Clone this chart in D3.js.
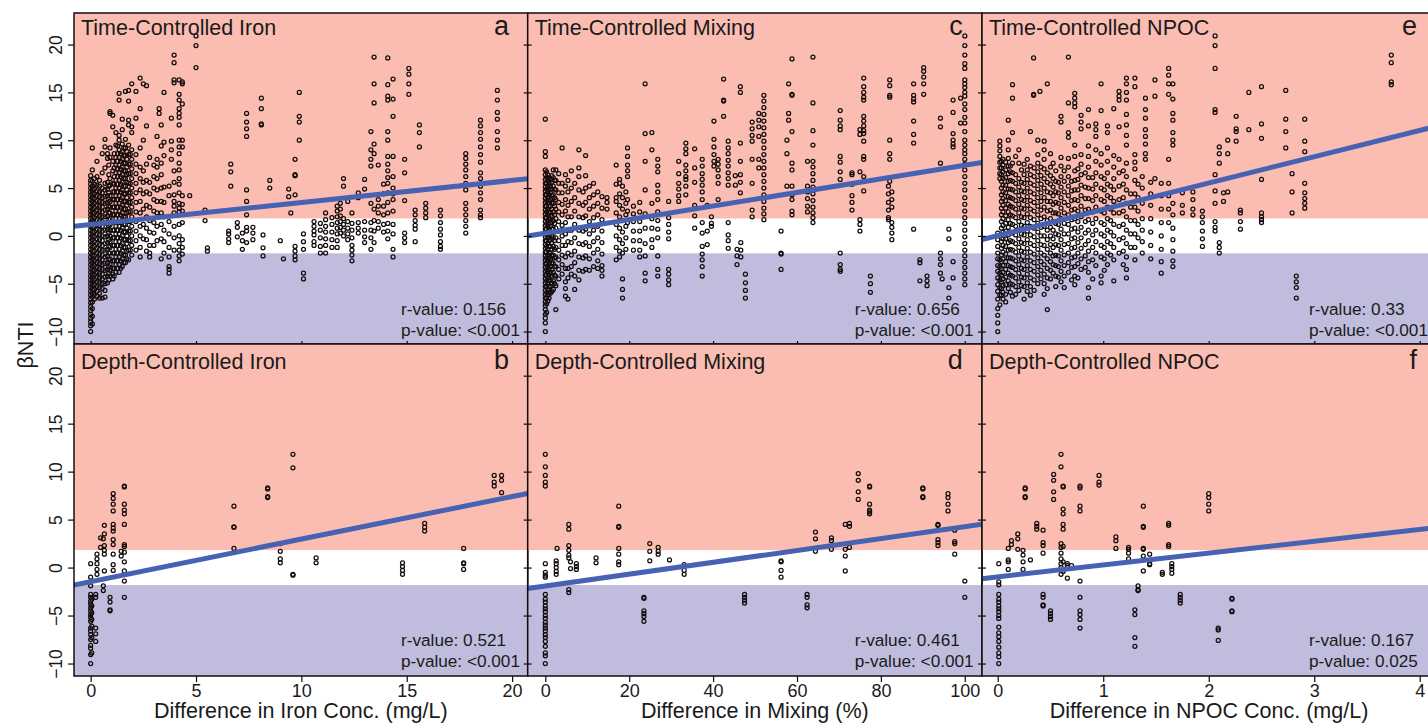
<!DOCTYPE html>
<html>
<head>
<meta charset="utf-8">
<script src="https://cdn.jsdelivr.net/npm/d3@7"></script>
<style>
	body { margin: 0; background: #fff; }
	svg { display: block; }
	text { font-family: 'Liberation Sans', Arial, sans-serif; fill: #1a1a1a; }
</style>
</head>
<body>
<svg id="chart" width="1428" height="723"></svg>
<script>
// points are stored as [x, [y, y, ...]] columns
const ironTime = [
	[0, [-10, -9.4, -9, -8.6, -8.2, -7.8, -7.4, -7, -6.6, -6.2, -5.8, -5.4, -5, -4.6, -4.2, -3.8, -3.4, -3, -2.6, -2.2, -1.8, -1.4, -1, -0.6, -0.2, 0.2, 0.6, 1, 1.4, 1.8, 2.2, 2.6, 3, 3.4, 3.8, 4.2, 4.6, 5, 5.4, 5.8, 6.3]],
	[0.08, [-9.2, -8.4, -7.6, -6.9, -6.4, -6, -5.6, -5.2, -4.8, -4.4, -4, -3.6, -3.2, -2.8, -2.4, -2, -1.6, -1.2, -0.8, -0.4, 0, 0.4, 0.8, 1.2, 1.6, 2, 2.4, 2.8, 3.2, 3.6, 4, 4.4, 4.8, 5.2, 5.7, 6.9, 9.2]],
	[0.18, [-6.6, -6.1, -5.6, -5.1, -4.6, -4.1, -3.6, -3.1, -2.6, -2.1, -1.6, -1.1, -0.6, -0.1, 0.4, 0.9, 1.4, 1.9, 2.4, 2.9, 3.4, 3.9, 4.4, 4.9, 5.4, 6]],
	[0.3, [-6.3, -5.8, -5.3, -4.8, -4.3, -3.8, -3.3, -2.8, -2.3, -1.8, -1.3, -0.8, -0.3, 0.2, 0.7, 1.2, 1.7, 2.2, 2.7, 3.2, 3.7, 4.2, 4.7, 5.3, 6.2, 7.8]],
	[0.42, [-6.5, -6, -5.4, -4.9, -4.4, -3.9, -3.4, -2.9, -2.4, -1.9, -1.4, -0.9, -0.4, 0.1, 0.6, 1.1, 1.6, 2.1, 2.6, 3.1, 3.6, 4.1, 4.6, 5.2, 5.8]],
	[0.55, [-6.5, -5.5, -5, -4.5, -4, -3.5, -3, -2.5, -2, -1.5, -1, -0.5, 0, 0.5, 1, 1.5, 2, 2.5, 3, 3.5, 4, 4.5, 5, 6.6, 8.6]],
	[0.68, [-6.4, -5.7, -5, -4.3, -3.6, -2.9, -2.2, -1.5, -0.8, -0.1, 0.6, 1.3, 2, 2.7, 3.4, 4.1, 4.8, 5.5, 7.1, 9.3, 10.1]],
	[0.8, [-4.9, -4.2, -3.5, -2.8, -2.1, -1.4, -0.7, 0, 0.7, 1.4, 2.1, 2.8, 3.5, 4.2, 4.9, 5.6, 8.1, 8.6]],
	[0.86, [-4.6, -3.9, -3.2, -2.5, -1.8, -1.1, -0.4, 0.3, 1, 1.7, 2.4, 3.1, 3.8, 4.5, 5.2, 6.4, 7.4]],
	[0.92, [-4.2, -3.6, -3, -2.4, -1.8, -1.2, -0.6, 0, 0.6, 1.2, 1.8, 2.4, 3, 3.6, 4.2, 5.3, 6, 8.2, 9.2, 12.8, 13]],
	[1.05, [-4.5, -4, -3.4, -2.6, -1.8, -1, -0.2, 0.6, 1.4, 2.2, 3, 3.8, 4.6, 5.5, 6.8, 7.8, 11.4, 12.6]],
	[1.12, [-4.2, -3.4, -2.6, -1.8, -1, -0.2, 0.6, 1.4, 2.2, 3, 3.8, 4.6, 5.4, 6.2, 7.1, 8.6]],
	[1.2, [-3.8, -3, -2.2, -1.4, -0.6, 0.2, 1, 1.8, 2.6, 3.4, 4.2, 5, 5.8, 6.6, 7.4, 8.2, 9.5, 10.8]],
	[1.28, [-3.4, -2.6, -1.8, -1, -0.2, 0.6, 1.4, 2.2, 3, 3.8, 4.6, 5.4, 6.2, 7, 7.8, 8.6, 9.4]],
	[1.35, [-3.8, -3, -2.2, -1.4, -0.6, 0.2, 1, 1.8, 2.6, 3.4, 4.2, 5, 5.8, 6.6, 7.4, 8.2, 9, 10, 10.5, 14.2, 14.9]],
	[1.42, [-3.4, -2.6, -1.8, -1, -0.2, 0.6, 1.4, 2.2, 3, 3.8, 4.6, 5.4, 6.2, 7, 7.8, 8.6]],
	[1.5, [-3.2, -2.4, -1.6, -0.8, 0, 0.8, 1.6, 2.4, 3.2, 4, 4.8, 5.6, 6.4, 7.2, 8, 8.8, 9.6, 11.1, 12.2]],
	[1.58, [-2.8, -2, -1.2, -0.4, 0.4, 1.2, 2, 2.8, 3.6, 4.4, 5.2, 6, 6.8, 7.6, 8.4, 9.2]],
	[1.65, [-2.8, -2, -1.2, -0.4, 0.4, 1.2, 2, 2.8, 3.6, 4.4, 5.2, 6, 6.8, 7.6, 8.4, 9.2, 10.1, 15.1]],
	[1.72, [-2.4, -1.6, -0.8, 0, 0.8, 1.6, 2.4, 3.2, 4, 4.8, 5.6, 6.4, 7.2, 8, 8.8]],
	[1.8, [-2.5, -1.5, -0.5, 0.5, 1.5, 2.5, 3.5, 4.5, 5.5, 6.5, 7.5, 8.5, 9.5, 11.6, 12.1, 14.1, 15.2]],
	[1.88, [-1.5, -0.5, 0.5, 1.5, 2.5, 3.5, 4.5, 5.5, 6.5, 7.5, 8.5]],
	[1.95, [-2, -1, 0, 1, 2, 3, 4, 5, 6, 7, 8, 9, 10.8, 11.4, 15.9]],
	[2.15, [-1.5, -0.5, 0.5, 1.5, 2.5, 3.5, 4.5, 5.5, 6.5, 7.5, 8.5, 12.3, 15.1]],
	[2.35, [-2.2, -1.2, 0, 1, 2.4, 3.6, 4.8, 6, 7.2, 9.2, 13.3, 16.5]],
	[2.5, [-0.3, 1.2, 2.8, 4.4, 5.6, 6.8, 10, 15.9]],
	[2.65, [-1.6, -0.4, 0.8, 2, 3.2, 4.6, 5.8, 7.5, 11.5, 15.7]],
	[2.8, [-2.2, -1.8, -1, 0.4, 1.6, 3, 4.4, 5.6, 8.2]],
	[3.0, [-1, 0.3, 1.4, 2.6, 3.8, 5, 6.2, 7.4]],
	[3.15, [-0.5, 1, 2.4, 3.6, 4.8, 6, 7.2, 8, 10.4]],
	[3.25, [13.3, 12.8]],
	[3.35, [-2.4, -0.3, 1.2, 2.4, 3.6, 5, 6.4, 7.6, 9.4, 11.6]],
	[3.48, [15, -1.8, -0.6, 0.6, 2, 3.5, 5.1, 8.4, 9.8]],
	[3.72, [-3.9, -3.5, -3.2, -2.2, -1.2, 0.2, 1.5, 4.2, 5.2]],
	[3.83, [12.3, 9.9, 9, 8]],
	[3.96, [18.9, 18.1, 16.3, 16, 6.8, 5.6, 4.3, 3.6, 3.1, 2.4, 1, -0.2, -1.5]],
	[4.2, [16.3, 14.8, 14.2, 13.3, 12.8, 12.4, 11.6, 10, 9.3, 8.6, 7.6, 6.9, 6, 5.4, 4.5, 3.4, 2.9, 2.5, 1.2, 0, -0.8, -1.5, -2.1, -2.6]],
	[4.35, [16.1, 15.9, 13.8, 10, 9.3, 4.2, 3.3, 2.6, 1.4, -0.4, -1.2, -1.9]],
	[4.7, [4.2]],
	[5.0, [20.9, 19.9, 17.6]],
	[5.43, [2.7, 1.6]],
	[5.54, [-1.25, -1.6]],
	[6.55, [-0.7, -0.3, 0.2, 0.5]],
	[6.65, [7.5, 6.7, 5.2]],
	[6.96, [-0.1, 0.9, 1.4]],
	[7.2, [0.3, -0.5, -1.4]],
	[7.4, [12.8, 11.9, 11.2, 10.4, 4.8, 3.6, 2.2, 0.5, -0.7, 0.9]],
	[7.7, [0.3, -0.4, 0.9]],
	[8.1, [14.4, 13.3, 11.7, 11.6]],
	[8.18, [-1.25, -2.1, 0.1]],
	[8.5, [5.8, 5.0]],
	[9.0, [-0.5]],
	[9.15, [-2.4]],
	[9.4, [4.9, 4.1]],
	[9.5, [2.4]],
	[9.7, [8.0, 6.4, 6.3, 4.3, -1.1, -1.6, -2.1, -2.5]],
	[9.9, [15, 12.5, 11.9, 10]],
	[10.1, [0.2, -0.6, -1.4, -3.9, -4.5]],
	[10.6, [1.5, 1, 0.5, 0.1, -0.6, -1]],
	[10.9, [1.3, 0.6, -0.2, -1.1, -1.8]],
	[11.15, [2.4, 1.7, 1, 0.4, -0.3, -1, -1.8]],
	[11.45, [1.9, 1.2, 0.4, -0.4, -1.2]],
	[11.7, [3.1, 2.6, 2, 1.4, 0.8, 0.2, -0.5, -1.2]],
	[11.85, [3.4, 2.8, 2.1, 1.5, 0.9, 0.3]],
	[12.0, [6.0, 5.2, 1.8, 1.2, 0.6, 0]],
	[12.2, [3.6, 1.5, 0.8, 0.2, -0.4]],
	[12.4, [2.4, 1.3, 0.6, -0.2, -1, -1.5, -2, -2.6]],
	[12.7, [4.5, 4.0, 1.4, 0.8, 0.3]],
	[13.0, [5.9, 4.9, 1.5, 0.6, -0.1, -0.7]],
	[13.3, [10.9, 9.0, 8.0, 7.3, 3.4, 1.4, 0.6, -0.2, -1.4]],
	[13.45, [18.7, 15.9, 13.9, 9.6, 8.6, 2.8, 1.6, 0.5, -0.7]],
	[13.65, [7.4, 3.8, 3.1, 2.4, 1.5, 0.8]],
	[13.9, [5.4, 4.4, 3.1, 2.2, 1.2, 0.4]],
	[14.1, [18.6, 15.8, 14.6, 14.2, 10.9, 10, 8.3, 7.5, 6.8, 6.1, 5.5, 4.5, 3.5, 2.4, 1.3, 0.5, -0.3]],
	[14.35, [16.4, 14.3, 12.5, 8.3, 6.2, 5, 4.4, 3.8, 2.6, 1.2, 0.2, -1.4, -2.2]],
	[14.9, [8, 6.6, 3.7, 0.3, -0.2, -0.7]],
	[15.1, [17.5, 16.9, 15.9, 14.8]],
	[15.4, [2.7, 2.2, 1.6, 1.1, 0.7, -0.6]],
	[15.6, [11.6, 10.8, 9.3]],
	[15.9, [3.4, 2.9, 2.4, 1.9]],
	[16.6, [2.7, 2.1, 1.4, 0.7, 0.1, -0.6, -1.1, -1.4]],
	[17.8, [8.6, 8.1, 7.5, 6.9, 6.2, 5.5, 4.8, 3.4, 2.8, 2.2, 1.6, 1, 0.3]],
	[18.5, [12.1, 11.5, 10.8, 10.1, 9.3, 8.5, 7.7, 6.6, 6, 5.2, 4.5, 3.8, 2.7, 2.2, 1.9]],
	[19.3, [15.2, 14.2, 12.9, 12.2, 10.9, 10.0, 9.2]]
]

const ironDepth = [
	[0, [-10, -9.06, -8.4, -8.1, -7.5, -7, -6.6, -6.3, -5.6, -5.2, -4.9, -4.5, -4.2, -3.8, -3.5, -3.1, -2.8, -1.9, -1, 0.4]],
	[0.05, [-8.9, -7.3, -6.1, -5.4, -4.7, -4, -3.3]],
	[0.24, [-7.7, -6.9, -6.3, -3.1, -2.8]],
	[0.3, [1.4, 0.9, 0.4, -0.2, -0.7]],
	[0.47, [2.1, 3.1]],
	[0.6, [3, -1.9, -2.4]],
	[0.65, [4.4, 3.5, 2.3, 1.8, 1.4, -0.35]],
	[0.92, [-3.1, -3.6, -4.4, -4.5]],
	[1.07, [7.7, 7.2, 6.6, 5.9, 4.5, 4.1, 3.8, 2.9, 2.4, 1.4, 0.3, -0.3]],
	[1.45, [1.7, 1.2]],
	[1.6, [8.5, 8.4, 6.6, 6, 5.6, 4.5, 2.4, 2.2, 1.6, 0.6, -0.35, -1.4, -3.1]],
	[6.8, [6.4, 4.25, 4.2, 2.0]],
	[8.4, [8.3, 8.2, 7.4, 7.3]],
	[9.0, [2.5, 1.7, 0.9, 0.5]],
	[9.6, [11.8, 10.4, -0.7, -0.8]],
	[10.7, [1, 0.5]],
	[14.8, [0.5, 0.1, -0.3, -0.7]],
	[15.85, [4.6, 4.2, 3.8]],
	[17.7, [2.0, 0.5, 0.4, -0.2]],
	[19.15, [9.6, 8.9, 8.5]],
	[19.5, [9.6, 9.1, 7.8]]
]

const mixTime = [
	[0, [-10, -9.1, -8.6, -8.2, -7.7, -7.3, -6.9, -6.5, -6.1, -5.7, -5.3, -4.9, -4.5, -4.1, -3.7, -3.3, -2.9, -2.5, -2.1, -1.7, -1.3, -0.9, -0.5, -0.1, 0.3, 0.7, 1.1, 1.5, 1.9, 2.3, 2.7, 3.1, 3.5, 3.9, 4.3, 4.7, 5.1, 5.5, 5.9, 6.4, 6.9, 8.3, 8.8, 12.2]],
	[0.3, [-8, -7.1, -6.5, -5.9, -5.3, -4.7, -4.1, -3.5, -2.9, -2.3, -1.7, -1.1, -0.5, 0.1, 0.7, 1.3, 1.9, 2.5, 3.1, 3.7, 4.3, 4.9, 5.5, 6.1, 6.7]],
	[0.6, [-6.8, -6.2, -5.6, -5, -4.4, -3.8, -3.2, -2.6, -2, -1.4, -0.8, -0.2, 0.4, 1, 1.6, 2.2, 2.8, 3.4, 4, 4.6, 5.2, 5.8, 6.4]],
	[0.9, [-6.5, -5.9, -5.3, -4.7, -4.1, -3.5, -2.9, -2.3, -1.7, -1.1, -0.5, 0.1, 0.7, 1.3, 1.9, 2.5, 3.1, 3.7, 4.3, 4.9, 5.5, 6.1]],
	[1.2, [-6, -5.3, -4.6, -3.9, -3.2, -2.5, -1.8, -1.1, -0.4, 0.3, 1, 1.7, 2.4, 3.1, 3.8, 4.5, 5.2, 5.9]],
	[1.55, [-5.8, -4.9, -4.2, -3.5, -2.8, -2.1, -1.4, -0.7, 0, 0.7, 1.4, 2.1, 2.8, 3.5, 4.2, 4.9, 5.6, 6.3]],
	[1.9, [-5.6, -4.7, -3.8, -2.9, -2, -1.1, -0.2, 0.7, 1.6, 2.5, 3.4, 4.3, 5.2, 6.1, 6.9]],
	[2.2, [-5, -4.1, -3.2, -2.3, -1.4, -0.5, 0.4, 1.3, 2.2, 3.1, 4, 4.9, 5.8]],
	[2.5, [-7.7, -5.2, -4.2, -3.2, -2.2, -1.2, -0.2, 0.8, 1.8, 2.8, 3.8, 4.8, 5.8, 6.9]],
	[3.2, [-4.5, -3.5, -2.5, -1.5, -0.5, 0.5, 1.5, 2.5, 3.5, 4.5, 5.5, 6.5]],
	[4.0, [9.2, 5.5, 4.5, 3.3, 2.2, 1.1, 0, -1, -2, -3, -4]],
	[4.8, [6.4, 5.2, 3.8, 2.6, 1.4, 0.2, -1, -2.2, -3.4, -4.8, -5.5, -6.3]],
	[5.4, [5.8, 4.6, 3.2, 2, 0.6, -0.6, -1.8, -3.4, -4.4, -6.6]],
	[6.2, [6.8, 5, 3.6, 2, 0.6, -0.7, -2, -3.2, -4]],
	[7.0, [5.5, 4, 2.6, 1.2, -0.2, -1.6, -2.8, -4.2, -5.6]],
	[8.0, [9.0, 7.1, 6.2, 4.8, 3.4, 2, 0.6, -0.8, -2.2, -3.6, -4.6]],
	[9.0, [4.6, 3.2, 1.9, 0.5, -0.9, -2.3, -3.7]],
	[9.6, [8.4, 6.3, 5.0, 3.5, 2.1, 0.7, -0.7, -2.1, -3.5]],
	[10.5, [5.2, 4, 2.8, 1.5, 0.2, -1.1, -2.4, -3.6]],
	[11.5, [5.5, 4.3, 3.1, 1.9, 0.6, -0.6, -1.8, -3.2]],
	[12.5, [4.6, 3.4, 2.2, 1, -0.2, -1.4, -2.6, -3.4]],
	[13.5, [4.1, 2.9, 1.7, 0.5, -0.7, -1.9, -3.1, -3.6, -4.2]],
	[14.7, [4, 3.5, 2.8]],
	[16.9, [7.4, 5.4, 4, 3.6, 2.4, 1.2, 0, -1.2, -2.5]],
	[17.7, [5.9, 5.5, 4.4, 3.2, 2, 0.8, -0.4, -1.6, -2.2]],
	[18.4, [5.2, 4, 2.8, 1.6, 0.4, -0.8, -1.8, -4.5, -5.6, -6.5]],
	[19.2, [4.6, 3.4, 2.2, 1, -0.2, -1.4]],
	[19.6, [9.2, 8.3, 7.4, 6.8, 6.2, 3.8, 2.6, 1.4]],
	[21.0, [3.1, 2.3, 1.5, 0.5, -0.5, -1.5]],
	[22.5, [3.5, 2.5, 1.5, 0.5, -0.5, -1.5, -2.2]],
	[23.8, [15.9, 10.7, 7.8, 4.8, 2.3, 0.8, -0.8, -2.1, -3.9, -4.7]],
	[25.4, [10.8, 9, 3.4, 1.8, 0.8, -0.4, -1.2]],
	[26.8, [8, 7.3, 6.7, 5.3, 4.6, 3.8, 2.5, 1.6, 0.7, -0.2, -2.1, -3.5, -4.2]],
	[29.4, [3.6, 1.9, 1.2, 0.4, -0.3, -3.5, -4, -4.6, -5.1]],
	[31.8, [7.8, 6.5, 5.5, 4.9, 4.2, 3.6]],
	[33.5, [9.7, 9.1, 8.6, 7.4, 6.8, 6.2, 5.9, 5.2, 4.3]],
	[35.6, [9.1, 7.1, 5.6, 3.2, 2.1, 0.8]],
	[37.4, [8, 7.3, 6.5, 5.9, 5.3, 4.6, 3.8, 1.4, 0.3, -1.1, -1.9, -2.5, -3.2, -4.2]],
	[38.6, [-0.9, 0.5, 3.2]],
	[39.6, [2, 1.3, 1]],
	[40.2, [12, 10.1, 9.3, 8.5, 7.8, 7.3]],
	[41.2, [8, 7.5, 6.9, 6.2, 5.5, 3.8]],
	[42.5, [16.4, 14.2, 14.1, 12.5]],
	[43.6, [9.9, 9.2, 8.6, 7.9, 7.3, 6.6, 6, 5.3, 1.4, 0.1, -0.5, -1.3]],
	[45.3, [6.3, 5.3]],
	[45.7, [-1.4, -2.1, -3]],
	[46.5, [15.6, 15, 9.7, 7.8, 6.4, 5.6, 4.5]],
	[46.6, [-0.7, -1.5, -2.2]],
	[47.7, [-4, -4.9, -5.7, -6.5]],
	[49.3, [11.9, 11.2, 10.5, 9.9, 8, 5.5, 2.7, 2]],
	[50.9, [12.8, 12.1, 11.4, 10.4, 8, 7.1]],
	[52.1, [14.7, 14.1, 13.4, 12.7, 12, 11.3, 10.6, 9.9, 9.2, 8.5, 7.8, 7.1, 6.4, 5.7, 5, 4.3, 3.6, 2.9, 2.3, 1.7]],
	[56.2, [0.5, -1.8, -1.9, -3.5]],
	[57.6, [10, 8.6, 5.2]],
	[58.0, [15.9, 12.8, 12.1]],
	[58.8, [18.5, 14.8, 14.7, 10.9, 7.6, 6.9, 5.2, 4.3, 3.8, 2.6, 2.2]],
	[62.5, [7.8, 5.2, 4.6, 3.9, 3.1, 2.5]],
	[63.8, [18.7, 13.9, 11, 9.5, 7.8, 7.2, 6.5, 5.8, 5.1, 4.4, 3.7, 3, 2.4, 1.9, 1.4]],
	[70.3, [13.1, 12.1, 11.5, 11.1, 8.3, 7.7, 6.7, 5.9, -1.8, -3, -3.5, -3.7]],
	[73.1, [6.6, 6.4, 5.4, 4.2, 3.5, 2.7]],
	[75.0, [11.1, 10.6, 6.7, 1.7, 1.2, 0.5]],
	[75.9, [16.5, 15.6, 15, 14.5, 14.2, 12.5, 12, 11.5, 11, 10.7, 9.9, 8.3, 8, 6.2, 4.7]],
	[77.5, [-4.2, -5, -5.9]],
	[81.8, [5.2, 4.4, 3.5, 2.7, 1.9, 1.7]],
	[82.1, [16.3, 15.7, 14.7, 14.5, 10, 8.6, 8, 5.7]],
	[82.6, [4.6, 3.8, 3, 1.4, 0.9, 0.3, -0.4]],
	[87.8, [15.9, 14.7, 14.3, 14, 12, 10.6, 9.7, 0.7]],
	[89.3, [-2.5, -2.8, -4.7]],
	[90.2, [17.6, 17.2, 16.6, 15.9, 14.8]],
	[91.0, [-4.2, -4.7, -5.2]],
	[94.2, [12.3, 11.4, 7.6, -1.8, -2.4, -3, -3.9]],
	[94.6, [-4.5]],
	[96.2, [-5.4, -6.5, 0.7, -0.3]],
	[97.2, [14.2, 12.9, 10.7, 10, 9.6, 9.3, -2.7, -4.4]],
	[99.0, [14.4, 11.8]],
	[100, [20.9, 19.9, 18.9, 18, 17.5, 16.3, 15.9, 15.5, 15, 14.6, 13.8, 13.2, 12.4, 11.8, 10.9, 10, 9.5, 9, 8.6, 8, 7.5, 6.9, 6.2, 5.5, 4.8, 4, 3.3, 2.6, 1.9, 1.3, 0.6, -0.1, -0.8, -1.5, -2.1, -2.7, -3.3, -3.9, -4.5, -5.1]]
]

const mixDepth = [
	[0, [11.8, 10.5, 9.6, 8.9, 8.5, 0.4, -0.5, -0.8, -1, -2.8, -3.3, -3.6, -4, -4.3, -4.6, -5, -5.3, -5.7, -6, -6.3, -6.6, -7, -7.3, -7.7, -8.2, -8.9, -9.2, -10]],
	[2.6, [0.7, 0.4, 0, -0.4, -0.7]],
	[2.8, [2.0]],
	[5.6, [4.5, 4, 2.3, 1.8, 1.3, 1, -2.3, -2.6]],
	[6.0, [0.6, -0.1]],
	[7.4, [0.4, 0.1, -0.2]],
	[12.1, [1, 0.5]],
	[17.5, [6.4, 4.3, 4.2, 2, 1.4, 0.6, 0.3]],
	[23.5, [-3.1, -3.2, -4.5, -4.8, -5.1, -5.6]],
	[24.9, [2.5, 1.7, 0.7]],
	[26.9, [2.1, 1.7, 1.4]],
	[29.6, [0.8]],
	[33.1, [0.3, -0.3, -0.7]],
	[47.5, [-2.8, -3.1, -3.4, -3.7]],
	[56.2, [0.7, 0.6, -0.3, -1]],
	[62.4, [-2.8, -3.1, -3.9, -4.2]],
	[64.4, [3.7, 3, 1.7]],
	[68.2, [3.1, 2.8, 1.9]],
	[71.5, [4.5, 1.9, 1.2, -0.35]],
	[72.5, [4.6, 4.3, 2.1]],
	[74.6, [9.8, 9.1, 7.9, 7.1]],
	[77.3, [8.5, 8.4, 6.6, 6, 5.8, 5.6]],
	[90.0, [8.3, 8.2, 7.4, 7.3]],
	[93.6, [4.5, 4.4, 2.9, 2.6, 2.3]],
	[96.0, [7.7, 7.3, 6.6, 5.9]],
	[97.6, [3.9, 2.7, 2.5, 1.4]],
	[100, [-1.4, -3.1]]
]

const npocTime = [
	[0, [-10, -9.1, -8.3, -7.6, -6.6, -5.8, -5.1, -4.4, -3.7, -3.1, -2.4, -1.8, -1.1, -0.4, 0.3]],
	[0.02, [-7.2, -6.2, -5.4, -4.6, -3.9, -3.2, -2.5, 9.9, 9.4, 8.9, 8.3, 7.7, 7.1, 6.5, 6]],
	[0.035, [-6.2, -5.5, -4.8, -4.1, -3.4, -2.7, -2, -1.3, -0.6, 0.1, 0.8, 1.5, 2.2, 2.9, 3.6, 4.3, 5, 5.7, 6.4, 7.1, 7.8]],
	[0.05, [-6.6, -5.9, -5.2, -4.5, -3.8, -3.1, -2.4, -1.7, -1, -0.3, 0.4, 1.1, 1.8, 2.5, 3.2, 3.9, 4.6, 5.3, 6, 6.7, 7.4, 8]],
	[0.075, [-6.9, -6.1, -5.1, -4.3, -3.5, -2.7, -1.9, -1.1, -0.3, 0.5, 1.3, 2.1, 2.9, 3.7, 4.5, 5.3, 6.1, 6.9, 7.7]],
	[0.1, [-5.5, -4.7, -3.9, -3.1, -2.3, -1.5, -0.7, 0.1, 0.9, 1.7, 2.5, 3.3, 4.1, 4.9, 5.7, 6.5, 7.3, 8.1, 9, 10, 12.1]],
	[0.12, [-5.9, -5, -4.1, -3.2, -2.3, -1.4, -0.5, 0.4, 1.3, 2.2, 3.1, 4, 4.9, 5.8, 6.7, 7.3]],
	[0.14, [15.8, 14.4, 10.8, -6.3, -5.1, -4.2, -3.3, -2.4, -1.5, -0.6, 0.3, 1.2, 2.1, 3, 3.9, 4.8, 5.7, 6.6, 7.6]],
	[0.17, [-6.1, -5.3, -4.4, -3.5, -2.6, -1.7, -0.8, 0.1, 1, 1.9, 2.8, 3.7, 4.6, 5.5, 6.4, 8.3]],
	[0.2, [-5.7, -4.8, -3.9, -3, -2.1, -1.2, -0.3, 0.6, 1.5, 2.4, 3.3, 4.2, 5.1, 6, 7.6, 9]],
	[0.225, [-5.2, -4.3, -3.4, -2.5, -1.6, -0.7, 0.2, 1.1, 2, 2.9, 3.8, 4.7, 5.6, 6.9]],
	[0.25, [-6.6, -5.3, -4.4, -3.5, -2.6, -1.7, -0.8, 0.1, 1, 1.9, 2.8, 3.7, 4.6, 5.5, 6.4, 7.5]],
	[0.28, [-5.8, -4.9, -4, -3.1, -2.2, -1.3, -0.4, 0.5, 1.4, 2.3, 3.2, 4.1, 5, 5.9, 6.9, 8]],
	[0.31, [-6.2, -5.3, -4.4, -3.5, -2.6, -1.7, -0.8, 0.1, 1, 1.9, 2.8, 3.7, 4.6, 5.5, 6.4, 7.3, 10.9]],
	[0.34, [18.6, 14.8, 14.7]],
	[0.345, [-5.7, -4.6, -3.7, -2.8, -1.9, -1, -0.1, 0.8, 1.7, 2.6, 3.5, 4.4, 5.3, 6.2, 7.1]],
	[0.38, [-5, -4.1, -3.2, -2.3, -1.4, -0.5, 0.4, 1.3, 2.2, 3.1, 4, 4.9, 5.8, 6.7, 7.6, 8.5, 10]],
	[0.4, [15.1]],
	[0.41, [-4.5, -3.6, -2.7, -1.8, -0.9, 0, 0.9, 1.8, 2.7, 3.6, 4.5, 5.4, 6.3, 7.2]],
	[0.44, [-6.1, -5, -4, -3, -2, -1, 0, 1, 2, 3, 4, 5, 6, 7, 8, 9, 9.9]],
	[0.47, [15.9, -7.7, -5.5, -4.4, -3.4, -2.4, -1.4, -0.4, 0.6, 1.6, 2.6, 3.6, 4.6, 5.6, 6.6]],
	[0.5, [-4.5, -3.6, -2.7, -1.8, -0.9, 0, 0.9, 1.8, 2.7, 3.6, 4.5, 5.4, 6.3, 7.2, 8.6]],
	[0.525, [-3.9, -3, -2.1, -1.2, -0.3, 0.6, 1.5, 2.4, 3.3, 4.2, 5.1, 6, 7.6]],
	[0.55, [-5.3, -4.2, -3.1, -2, -0.9, 0.2, 1.3, 2.4, 3.5, 4.6, 5.7, 6.8]],
	[0.575, [-4.3, -3.2, -2.1, -1, 0.1, 1.2, 2.3, 3.4, 4.5, 5.6]],
	[0.6, [12.5, 11.9, -4.8, -3.7, -2.6, -1.5, -0.4, 0.7, 1.8, 2.9, 4, 5.1, 6.2, 7.3, 8.2]],
	[0.63, [-5.4, -4.2, -3.1, -2, -0.9, 0.2, 1.3, 2.4, 3.5, 4.6, 5.7, 6.8]],
	[0.67, [18.7, 13.9, 10.8, 10.3, -3.8, -2.8, -1.8, -0.8, 0.2, 1.2, 2.2, 3.2, 4.2, 5.2, 6.2, 7.2, 8.1]],
	[0.7, [-4.6, -3.3, -2.3, -1.3, -0.3, 0.7, 1.7, 2.7, 3.7, 4.7, 5.7]],
	[0.73, [14.9, 14.4, 13.9, 13.5, -5.1, -4.2, -3.2, -2.2, -1.2, -0.2, 0.8, 1.8, 2.8, 3.8, 4.8, 5.8, 6.8, 8.3, 9.5]],
	[0.76, [-4.4, -2.9, -1.8, -0.7, 0.4, 1.5, 2.6, 3.7, 4.8, 5.9, 7]],
	[0.79, [12.6, 11.9, 11.2, -3.5, -2.4, -1.3, -0.2, 0.9, 2, 3.1, 4.2, 5.3, 6.4, 7.5, 8.5]],
	[0.83, [-3.3, -2.1, -0.9, 0.3, 1.5, 2.7, 3.9, 5.1, 6.6]],
	[0.86, [13.2, 11.5, -6.5, -5.4, -3.8, -2.7, -1.6, -0.5, 0.6, 1.7, 2.8, 3.9, 5, 6.1, 7.2, 8.3, 9.4]],
	[0.9, [-4.5, -2.5, -1.2, 0.1, 1.3, 2.5, 3.7, 4.9, 6.1]],
	[0.93, [11.7, 11.1, 10.4, -3.1, -1.8, -0.6, 0.6, 1.8, 3, 4.2, 5.4, 6.6, 7.8, 9]],
	[0.98, [15.9, 13.1, -4.2, -4.9, -2.2, -1, 0.2, 1.4, 2.6, 3.8, 5, 6.2, 7.4, 8.6]],
	[1.01, [-3.6, -2.4, -1.2, 0, 1.2, 2.4, 3.6, 4.8, 6]],
	[1.04, [11.5, 10.8, -3, -1.8, -0.6, 0.6, 1.8, 3, 4.2, 5.4, 6.6, 7.8, 9.2]],
	[1.07, [-2, -0.8, 0.4, 1.6, 2.8, 4, 5.2]],
	[1.1, [13.3, -4.7, -2.5, -1.2, 0, 1.2, 2.4, 3.6, 4.8, 6, 7.2, 8.4]],
	[1.15, [15.1, 14.6, 14.2, 11.4, -1.8, -0.4, 1, 2.4, 3.8, 5.2, 6.6, 8]],
	[1.19, [-3, -1.6, -0.2, 1.2, 2.6, 4, 5.4, 6.8]],
	[1.22, [16.5, 15.9, 15, 14.2, 12.7, 11.6, 10.5, 9.5, -4.4, -3.5, -2.2, -0.8, 0.6, 2, 3.4, 4.8, 6.2, 7.6]],
	[1.26, [-1.2, 0.2, 1.6, 3, 4.4]],
	[1.3, [16.5, 15.6, 8.5, 7.7, -2.5, -1.2, 0.2, 1.6, 3, 4.4, 5.8, 7]],
	[1.33, [-0.2, 1.2, 2.6, 4, 5.4]],
	[1.37, [-1.8, -0.6, 0.6, 1.8, 3.4, 5, 6.2]],
	[1.4, [14.4, 13.2, 12.3, 11.1, 10.4, 9.6, 8.6, 8]],
	[1.45, [-2.4, -1, 0.4, 1.8, 3.2, 4.4, 5.6]],
	[1.49, [16.3, 14.6, 6]],
	[1.55, [-3.9, -2.7, -1.4, 0, 1.4, 2.8, 4.2, 5.5]],
	[1.62, [17.5, 16.8, 15.9, 14.8, 8, 5.5, 4.2, 2.8, 1.4]],
	[1.66, [15.9, 14.3, 12.8, 12.1, 10.8, 10, 9.5, 3.4, 2.2, 0.8, -0.4, -1.6, -2.6, -3.2]],
	[1.75, [4.5, 3.2, 2.4]],
	[1.85, [4.6, 3.8, 2.8, 2.2]],
	[1.94, [2.6, 2, 1.4, 0.5, -0.3, -1.1]],
	[2.06, [20.9, 19.9, 17.5, 13.2, 12.9, 6.4, 4.7, 3.4, 1.5, 0.9, 0.5]],
	[2.1, [9.3, 8.6, 7.6, -0.7, -1.2, -1.8]],
	[2.14, [4.5, 3.6]],
	[2.18, [10, 8.6, 4.6]],
	[2.26, [12.5, 11.2, 10.9, 9.9]],
	[2.3, [2.7, 2.4, 1.5, 0.7]],
	[2.38, [15, 11.1]],
	[2.5, [15.6, 11.7, 10.2, 5.9, 2.4, 2, 1.7, 1.4]],
	[2.73, [15.2, 12.2, 10.9, 9.2]],
	[2.79, [6.5, 4.6, 2.4]],
	[2.83, [-4.2, -4.8, -5.4, -6.5]],
	[2.91, [12.2, 9.9, 8.8, 5.5, 4.5, 3.9, 3.4, 2.9]],
	[3.73, [18.9, 18.1, 16.1, 15.8]]
]

const npocDepth = [
	[0.01, [0.4, -1.5, -1.8, -2.8, -3.3, -3.6, -4, -4.3, -4.6, -5, -5.3, -6.2, -6.8, -7.2, -7.7, -8.3, -8.9, -9.3, -10]],
	[0.1, [2, 0.8, 0.6, -0.2]],
	[0.13, [2.8, 2.4]],
	[0.19, [3.5, 3, 1.9]],
	[0.24, [1.8, 1.3, 0.6, -0.2]],
	[0.26, [8.3, 8.2, 7.4, 7.3]],
	[0.31, [0.8]],
	[0.37, [4.6, 4.3, 4]],
	[0.43, [3.9, 2.6, 2.3, 1.5, -2.8, -3.1, -3.9, -4]],
	[0.5, [-4.5, -4.8, -5.1, -5.4]],
	[0.53, [9.7, 9.1, 7.9, 7.1]],
	[0.6, [11.8, 10.5, 2.5, 2.1, 1.5, 0.9, 0.4, 0, -0.7]],
	[0.62, [8.5, 8.4, 6.1, 5.6, 4.5, 4.0, 2.2, 0.6, -0.4]],
	[0.66, [0.4, 0.2, -1.1]],
	[0.7, [0.2]],
	[0.78, [8.5, 8.3, 6.4, 5.9, -1.4, -3.1, -4.5, -4.9, -5.4, -6.3]],
	[0.96, [9.6, 8.9, 8.6]],
	[1.12, [3.2, 2.8, 2]],
	[1.24, [2.1, 1.9, 1.5, 0.9]],
	[1.3, [-4.4, -4.9, -7.3, -8.2]],
	[1.33, [-1.9, -2.3, -2.4]],
	[1.38, [6.4, 4.3, 4.2, 2, 1.9, 1.2, -0.35]],
	[1.44, [1.4, 0.4, 0.3]],
	[1.56, [-0.5, -0.7]],
	[1.62, [4.6, 4.4, 2.4, 2.2]],
	[1.65, [0.4, 0.1, -0.2, -0.6]],
	[1.73, [-2.8, -3.1, -3.4, -3.7]],
	[2.0, [7.7, 7.3, 6.6, 5.9]],
	[2.09, [-6.3, -6.5, -7.6]],
	[2.22, [-3.2, -3.3, -4.5, -4.6]]
]

// regression fits (intercept, slope), order a..f
const fitIntercept = [1.18, -1.46, 0.28, -1.93, 0.03, -0.97]
const fitSlope = [0.231, 0.443, 0.071, 0.0619, 2.75, 1.237]
const rValues = ['0.156', '0.521', '0.656', '0.461', '0.33', '0.167']
const pValues = ['<0.001', '<0.001', '<0.001', '<0.001', '<0.001', '0.025']
const titles = ['Time-Controlled Iron', 'Depth-Controlled Iron', 'Time-Controlled Mixing', 'Depth-Controlled Mixing', 'Time-Controlled NPOC', 'Depth-Controlled NPOC']
const letters = ['a', 'b', 'c', 'd', 'e', 'f']
const xLabels = ['Difference in Iron Conc. (mg/L)', 'Difference in Mixing (%)', 'Difference in NPOC Conc. (mg/L)']
const xTicks = [[0, 5, 10, 15, 20], [0, 20, 40, 60, 80, 100], [0, 1, 2, 3, 4]]
const xDomains = [[-0.79, 20.74], [-4.2, 104.1], [-0.149, 4.154]]
const yTicks = [-10, -5, 0, 5, 10, 15, 20]
const yDomain = [-11.3, 23.3]
const bandLimits = [-1.82, 1.82]

const datasets = [ironTime, ironDepth, mixTime, mixDepth, npocTime, npocDepth]

const colEdges = [74, 527.7, 982, 1436]
const rowEdges = [13, 344, 676]
const red = '#fbbdb2'
const blue = '#c0bcdd'
const lineBlue = '#4762b2'
const ink = '#140c0c'
const fontFamily = "'Liberation Sans', Arial, sans-serif"

const svg = d3.select('#chart')
const defs = svg.append('defs')

datasets.forEach((data, i) => {
	const col = Math.floor(i / 2)
	const row = i % 2
	const x0 = colEdges[col], x1 = colEdges[col + 1]
	const y0 = rowEdges[row], y1 = rowEdges[row + 1]

	const x = d3.scaleLinear().domain(xDomains[col]).range([x0, x1])
	const y = d3.scaleLinear().domain(yDomain).range([y1, y0])

	defs.append('clipPath')
		.attr('id', 'clip' + i)
		.append('rect')
		.attr('x', x0).attr('y', y0)
		.attr('width', x1 - x0).attr('height', y1 - y0)

	const g = svg.append('g').attr('clip-path', `url(#clip${i})`)

	// background bands
	g.append('rect')
		.attr('x', x0).attr('width', x1 - x0)
		.attr('y', y0).attr('height', y(bandLimits[1]) - y0)
		.attr('fill', red)
	g.append('rect')
		.attr('x', x0).attr('width', x1 - x0)
		.attr('y', y(bandLimits[0])).attr('height', y1 - y(bandLimits[0]))
		.attr('fill', blue)

	const pts = data.flatMap(([px, ys]) => ys.map(py => [px, py]))

	g.append('g')
		.selectAll('circle')
		.data(pts)
		.enter()
		.append('circle')
		.attr('cx', d => x(d[0]))
		.attr('cy', d => y(d[1]))
		.attr('r', 2)
		.attr('fill', 'none')
		.attr('stroke', ink)
		.attr('stroke-width', 1.25)

	const xd = xDomains[col]
	g.append('line')
		.attr('x1', x(xd[0]))
		.attr('y1', y(fitIntercept[i] + fitSlope[i] * xd[0]))
		.attr('x2', x(xd[1]))
		.attr('y2', y(fitIntercept[i] + fitSlope[i] * xd[1]))
		.attr('stroke', lineBlue)
		.attr('stroke-width', 5)

	// panel texts
	svg.append('text')
		.attr('x', x0 + 7)
		.attr('y', y0 + (row === 0 ? 22 : 25))
		.attr('font-size', 21.5)
		.text(titles[i])
	svg.append('text')
		.attr('x', x0 + 435)
		.attr('y', y0 + (row === 0 ? 22 : 25))
		.attr('text-anchor', 'end')
		.attr('font-size', 27)
		.text(letters[i])
	svg.append('text')
		.attr('x', x0 + 327)
		.attr('y', y0 + 302)
		.attr('font-size', 17.2)
		.text('r-value: ' + rValues[i])
	svg.append('text')
		.attr('x', x0 + 327)
		.attr('y', y0 + 322.5)
		.attr('font-size', 17.2)
		.text('p-value: ' + pValues[i])

	// y axis
	if (col === 0) {
		const ay = svg.append('g')
			.attr('transform', `translate(${x0},0)`)
			.call(d3.axisLeft(y).tickValues(yTicks).tickSize(6).tickPadding(6))
		ay.select('.domain').remove()
		ay.selectAll('line').attr('stroke', ink).attr('stroke-width', 1.2)
		ay.selectAll('text')
			.attr('font-size', 17.5)
			.attr('font-family', fontFamily)
			.attr('fill', ink)
			.attr('text-anchor', 'middle')
			.attr('dy', 0)
			.attr('x', 0)
			.attr('transform', 'translate(-12,0) rotate(-90)')
	} else {
		const ay = svg.append('g')
			.attr('transform', `translate(${x0},0)`)
			.call(d3.axisRight(y).tickValues(yTicks).tickSize(4).tickFormat(''))
		ay.select('.domain').remove()
		ay.selectAll('line').attr('stroke', ink).attr('stroke-width', 1.2)
		const ay2 = svg.append('g')
			.attr('transform', `translate(${x0},0)`)
			.call(d3.axisLeft(y).tickValues(yTicks).tickSize(4).tickFormat(''))
		ay2.select('.domain').remove()
		ay2.selectAll('line').attr('stroke', ink).attr('stroke-width', 1.2)
	}

	// x axis
	if (row === 1) {
		const ax = svg.append('g')
			.attr('transform', `translate(0,${y1})`)
			.call(d3.axisBottom(x).tickValues(xTicks[col]).tickSize(6).tickPadding(4).tickFormat(d3.format('d')))
		ax.select('.domain').remove()
		ax.selectAll('line').attr('stroke', ink).attr('stroke-width', 1.2)
		ax.selectAll('text')
			.attr('font-size', 18)
			.attr('font-family', fontFamily)
			.attr('fill', ink)
			.attr('dy', 0)
			.attr('y', 21)
		svg.append('text')
			.attr('x', (x0 + x1) / 2)
			.attr('y', 718)
			.attr('text-anchor', 'middle')
			.attr('font-size', 21.5)
			.text(xLabels[col])
	} else {
		const ax = svg.append('g')
			.attr('transform', `translate(0,${y1})`)
			.call(d3.axisBottom(x).tickValues(xTicks[col]).tickSize(3).tickFormat(''))
		ax.select('.domain').remove()
		ax.selectAll('line').attr('stroke', ink).attr('stroke-width', 1.2)
		const ax2 = svg.append('g')
			.attr('transform', `translate(0,${y1})`)
			.call(d3.axisTop(x).tickValues(xTicks[col]).tickSize(3).tickFormat(''))
		ax2.select('.domain').remove()
		ax2.selectAll('line').attr('stroke', ink).attr('stroke-width', 1.2)
	}

	// frame
	svg.append('rect')
		.attr('x', x0).attr('y', y0)
		.attr('width', x1 - x0).attr('height', y1 - y0)
		.attr('fill', 'none')
		.attr('stroke', ink)
		.attr('stroke-width', 1.5)
})

svg.append('text')
	.attr('transform', 'translate(33,345) rotate(-90)')
	.attr('text-anchor', 'middle')
	.attr('font-size', 21.5)
	.text('βNTI')
</script>
</body>
</html>
